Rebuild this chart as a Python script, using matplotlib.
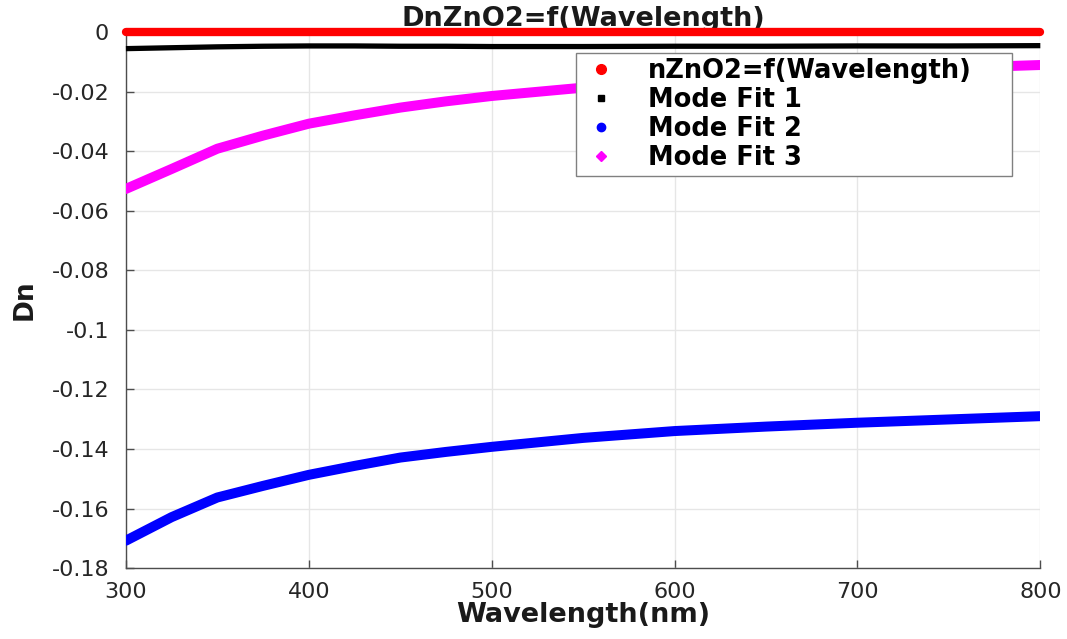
import matplotlib
matplotlib.use("Agg")
import matplotlib.pyplot as plt
from matplotlib.lines import Line2D

plt.rcParams['font.family'] = ['DejaVu Sans']

# Wavelength samples (nm) and index differences for each series
wavelength = [300, 325, 350, 375, 400, 425, 450, 475, 500, 550, 600, 650, 700, 750, 800]
dn_zno2 = [0.0] * len(wavelength)
mode_fit1 = [-0.0056, -0.0053, -0.0050, -0.0048, -0.0047, -0.0047, -0.0048, -0.0048,
             -0.0049, -0.0049, -0.0048, -0.0048, -0.0047, -0.0047, -0.0046]
mode_fit2 = [-0.1708, -0.1629, -0.1563, -0.1524, -0.1487, -0.1457, -0.1429, -0.1410,
             -0.1393, -0.1363, -0.1340, -0.1325, -0.1312, -0.1301, -0.1290]
mode_fit3 = [-0.0527, -0.0460, -0.0392, -0.0348, -0.0308, -0.0280, -0.0254, -0.0233,
             -0.0215, -0.0187, -0.0165, -0.0147, -0.0133, -0.0121, -0.0111]

series_labels = ["nZnO2=f(Wavelength)", "Mode Fit 1", "Mode Fit 2", "Mode Fit 3"]
x_ticks = [300, 400, 500, 600, 700, 800]
y_ticks = [0, -0.02, -0.04, -0.06, -0.08, -0.1, -0.12, -0.14, -0.16, -0.18]
y_tick_labels = ["0", "-0.02", "-0.04", "-0.06", "-0.08", "-0.1",
                 "-0.12", "-0.14", "-0.16", "-0.18"]

fig = plt.figure(figsize=(10.67, 6.39), dpi=100)
ax = fig.add_axes([0.118, 0.111, 0.857, 0.839])

axis_color = '#4d4d4d'

ax.plot(wavelength, mode_fit2, color='#0000ff', lw=7.2, solid_capstyle='round',
        solid_joinstyle='round', zorder=3)
ax.plot(wavelength, mode_fit3, color='#ff00ff', lw=7.2, solid_capstyle='round',
        solid_joinstyle='round', zorder=3)
ax.plot(wavelength, mode_fit1, color='black', lw=3.8, solid_capstyle='butt', zorder=4,
        clip_on=False)
ax.plot(wavelength, dn_zno2, color='#ff0000', lw=6.0, solid_capstyle='round', zorder=5,
        clip_on=False)

ax.set_xlim(300, 800)
ax.set_ylim(-0.18, 0)
ax.set_xticks(x_ticks)
ax.set_xticklabels([str(v) for v in x_ticks])
ax.set_yticks(y_ticks)
ax.set_yticklabels(y_tick_labels)

ax.grid(True, color='#e6e6e6', lw=1.0, zorder=0)
ax.set_axisbelow(True)
for side in ('top', 'right'):
    ax.spines[side].set_visible(False)
for side in ('left', 'bottom'):
    ax.spines[side].set_color(axis_color)
    ax.spines[side].set_linewidth(1.0)

ax.tick_params(axis='both', direction='in', length=6, width=1.0, color=axis_color,
               labelsize=16, labelcolor='#262626')
ax.tick_params(axis='y', pad=12)
ax.tick_params(axis='x', pad=10)

ax.set_title("DnZnO2=f(Wavelength)", fontsize=19.5, fontweight='bold', pad=3,
             color='#1a1a1a')
ax.set_xlabel("Wavelength(nm)", fontsize=19.5, fontweight='bold', labelpad=0,
              color='#1a1a1a')
ax.set_ylabel("Dn", fontsize=19, fontweight='bold', labelpad=10, color='#1a1a1a')

handles = [
    Line2D([], [], ls='none', marker='o', ms=7, color='#ff0000'),
    Line2D([], [], ls='none', marker='s', ms=4.5, color='black'),
    Line2D([], [], ls='none', marker='o', ms=6, color='#0000ff'),
    Line2D([], [], ls='none', marker='D', ms=5, color='#ff00ff'),
]
leg = ax.legend(handles, series_labels, loc='upper left',
                bbox_to_anchor=(0.492, 0.70, 0.477, 0.261), mode='expand',
                prop={'weight': 'bold', 'size': 18.5}, frameon=True, fancybox=False,
                edgecolor='#808080', framealpha=1.0, borderpad=0.2,
                labelspacing=0.12, handlelength=1.6, handletextpad=1.0,
                borderaxespad=0)
leg.get_frame().set_linewidth(1.0)
leg.set_zorder(10)

fig.savefig("out.png", dpi=100, facecolor='white')
